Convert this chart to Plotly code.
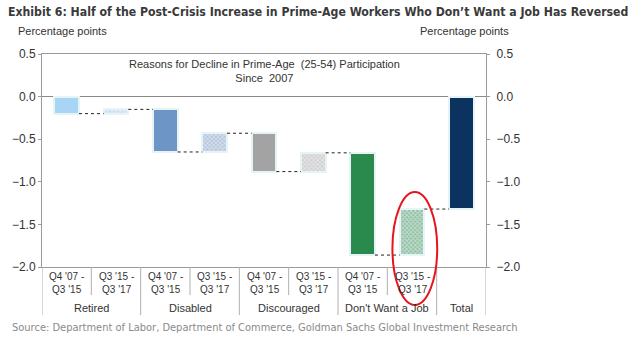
import plotly.graph_objects as go

# ---- data ----
groups = ["Retired", "Disabled", "Discouraged", "Don't Want a Job", "Total"]
periods = ["Q4 '07 -<br>Q3 '15", "Q3 '15 -<br>Q3 '17"]
changes = [-0.20, 0.05, -0.50, 0.22, -0.45, 0.22, -1.20, 0.54]
total = -1.32
fills = ["#a9d5f5", "#c7def0", "#6d95c6", "#b3c4dc", "#a3a3a3", "#cfcfcf", "#2a8a4e", "#8fbfa2"]
patterned = [False, True, False, True, False, True, False, True]
total_color = "#0c3360"
y_ticks = [0.5, 0.0, -0.5, -1.0, -1.5, -2.0]

# ---- compute waterfall bases ----
bases, tops = [], []
level = 0.0
for c in changes:
    bases.append(level)
    level += c
    tops.append(level)
xs = list(range(len(changes)))
xt = len(changes)

# plot area in pixels (for placing outside texts)
L, R, T, B = 40, 486, 54, 267
def px(x):
    return (x - L) / (R - L)
def py(y):
    return (B - y) / (B - T)

fig = go.Figure()
bw = 0.5
for i, c in enumerate(changes):
    pat = dict(shape="x", size=3, solidity=0.5, fgcolor="#ffffff", bgcolor=fills[i], fillmode="overlay") if patterned[i] else None
    fig.add_trace(go.Bar(
        x=[xs[i]], y=[c], base=[bases[i]], width=bw,
        marker=dict(color=fills[i], line=dict(color="#e6f3f7", width=2), pattern=pat),
        showlegend=False, hoverinfo="skip"))
fig.add_trace(go.Bar(x=[xt], y=[total], base=[0], width=bw,
                     marker=dict(color=total_color, line=dict(color="#e6f3f7", width=2)),
                     showlegend=False, hoverinfo="skip"))

# connectors
for i in range(len(changes)):
    fig.add_trace(go.Scatter(x=[i + bw / 2, i + 1 - bw / 2], y=[tops[i], tops[i]], mode="lines",
                             line=dict(color="#222", width=1, dash="3px,3px"),
                             showlegend=False, hoverinfo="skip"))

# invisible trace for right axis
fig.add_trace(go.Scatter(x=[0], y=[0], yaxis="y2", mode="markers", marker=dict(opacity=0),
                         showlegend=False, hoverinfo="skip"))

axis_font = dict(family="Liberation Sans, Arial, sans-serif", size=12, color="#333")
fig.update_layout(
    width=640, height=340,
    margin=dict(l=L, r=640 - R, t=T, b=340 - B),
    paper_bgcolor="white", plot_bgcolor="white",
    bargap=0, barmode="overlay",
    xaxis=dict(range=[-0.5, 8.5], showticklabels=False, showgrid=False, zeroline=False,
               showline=True, linecolor="#9a9a9a", linewidth=1, mirror=True, ticks=""),
    yaxis=dict(range=[-2.0, 0.5], tickvals=y_ticks, tickformat=".1f", showgrid=False,
               zeroline=True, zerolinecolor="#8a8a8a", zerolinewidth=1,
               showline=True, linecolor="#9a9a9a", linewidth=1, mirror=True,
               ticks="outside", ticklen=3, tickcolor="#9a9a9a", tickfont=axis_font),
    yaxis2=dict(range=[-2.0, 0.5], tickvals=y_ticks, tickformat=".1f", overlaying="y", side="right",
                showgrid=False, zeroline=False, showline=False, ticklabelstandoff=4,
                ticks="outside", ticklen=3, tickcolor="#9a9a9a", tickfont=axis_font),
)

small = dict(family="Liberation Sans, Arial, sans-serif", size=10, color="#333")
ann = []
for i in range(len(changes)):
    ann.append(dict(x=i, y=py(283), xref="x", yref="paper", text=periods[i % 2], showarrow=False,
                    font=small, yanchor="middle", xanchor="center"))
gx = [0.5, 2.5, 4.5, 6.5, 8]
for g, x in zip(groups, gx):
    ann.append(dict(x=x, y=py(308), xref="x", yref="paper", text=g, showarrow=False,
                    font=dict(family="Liberation Sans, Arial, sans-serif", size=11, color="#333"),
                    yanchor="middle", xanchor="center"))

ann.append(dict(x=px(4), y=py(3), xref="paper", yref="paper", yanchor="top", xanchor="left",
                text="Exhibit 6: Half of the Post-Crisis Increase in Prime-Age Workers Who Don’t Want a Job Has Reversed",
                showarrow=False,
                font=dict(family="DejaVu Sans Condensed, sans-serif", size=12.2, color="#3a3a3a", weight=600)))
ann.append(dict(x=px(14), y=py(31), xref="paper", yref="paper", yanchor="middle", xanchor="left",
                text="Percentage points", showarrow=False,
                font=dict(family="Liberation Sans, Arial, sans-serif", size=11, color="#333")))
ann.append(dict(x=px(418), y=py(31), xref="paper", yref="paper", yanchor="middle", xanchor="left",
                text="Percentage points", showarrow=False,
                font=dict(family="Liberation Sans, Arial, sans-serif", size=11, color="#333")))
ann.append(dict(x=4, y=0.30, xref="x", yref="y", yanchor="middle", xanchor="center",
                text="Reasons for Decline in Prime-Age  (25-54) Participation<br>Since  2007", showarrow=False,
                font=dict(family="Liberation Sans, Arial, sans-serif", size=11, color="#333")))
ann.append(dict(x=px(8), y=py(327), xref="paper", yref="paper", yanchor="middle", xanchor="left",
                text="Source: Department of Labor, Department of Commerce, Goldman Sachs Global Investment Research",
                showarrow=False,
                font=dict(family="DejaVu Sans Condensed, sans-serif", size=11, color="#8a8a8a")))

shapes = []
for b in range(0, 10):
    xb = b - 0.5
    long = b in (0, 2, 4, 6, 8, 9)
    shapes.append(dict(type="line", xref="x", yref="paper", x0=xb, x1=xb, y0=0,
                       y1=py(315) if long else py(295), line=dict(color="#b0b0b0", width=1)))
shapes.append(dict(type="circle", xref="paper", yref="paper",
                   x0=px(392), x1=px(437), y0=py(305), y1=py(192),
                   line=dict(color="#e8141c", width=2)))
fig.update_layout(annotations=ann, shapes=shapes)

fig.write_html("out.html")
